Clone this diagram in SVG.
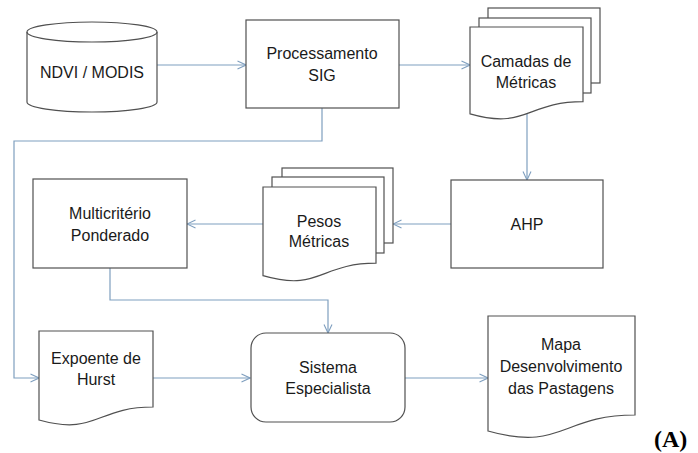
<svg xmlns="http://www.w3.org/2000/svg" width="698" height="453" viewBox="0 0 698 453">
  <style>
    .shape { fill: #ffffff; stroke: #505050; stroke-width: 1.2; }
    .lbl { font-family: "Liberation Sans", Arial, sans-serif; font-size: 16px; fill: #1a1a1a; text-anchor: middle; }
    .conn { fill: none; stroke: #7f9fbf; stroke-width: 1.2; marker-end: url(#arr); }
    .tag { font-family: "Liberation Serif", "Times New Roman", serif; font-size: 24px; font-weight: bold; fill: #000; }
  </style>
  <defs>
    <marker id="arr" viewBox="0 0 10 10" refX="9.5" refY="5" markerWidth="10" markerHeight="10" markerUnits="userSpaceOnUse" orient="auto">
      <path d="M1,1 L9.5,5 L1,9" fill="none" stroke="#7f9fbf" stroke-width="1.1"/>
    </marker>
  </defs>
  <rect width="698" height="453" fill="#ffffff"/>

  <!-- connectors -->
  <g id="connectors">
    <path class="conn" d="M157,65 H246"/>
    <path class="conn" d="M399,65 H470"/>
    <path class="conn" d="M527,114 V180"/>
    <path class="conn" d="M451,224 H393"/>
    <path class="conn" d="M263,224 H187"/>
    <path class="conn" d="M110,268 V300 H328 V333"/>
    <path class="conn" d="M322,108 V141 H14 V378 H39"/>
    <path class="conn" d="M153,378 H250"/>
    <path class="conn" d="M405,378 H488"/>
  </g>

  <!-- data source cylinder -->
  <g id="ndvi">
    <path class="shape" d="M27,32 V102 A65,10 0 0 0 157,102 V32 A65,10 0 0 0 27,32 Z"/>
    <path class="shape" style="fill:none" d="M27,32 A65,10 0 0 0 157,32"/>
    <text class="lbl" x="92" y="78">NDVI / MODIS</text>
  </g>

  <g id="processamento">
    <rect class="shape" x="246" y="20" width="153" height="88"/>
    <text class="lbl" x="322" y="59">Processamento</text>
    <text class="lbl" x="322" y="81">SIG</text>
  </g>

  <g id="camadas">
    <rect class="shape" x="488" y="8" width="112" height="75"/>
    <rect class="shape" x="479" y="18" width="112" height="75"/>
    <path class="shape" d="M470,27 H583 V101.6 C526.5,101.6 526.5,130 470,113.9 Z"/>
    <text class="lbl" x="526" y="67">Camadas de</text>
    <text class="lbl" x="526" y="88">Métricas</text>
  </g>

  <g id="ahp">
    <rect class="shape" x="451" y="180" width="152" height="88"/>
    <text class="lbl" x="527" y="230">AHP</text>
  </g>

  <g id="pesos">
    <rect class="shape" x="282" y="168" width="111" height="75"/>
    <rect class="shape" x="272" y="177" width="112" height="76"/>
    <path class="shape" d="M263,187 H376 V263.2 C319.5,263.2 319.5,292.2 263,275.7 Z"/>
    <text class="lbl" x="319" y="227">Pesos</text>
    <text class="lbl" x="319" y="247">Métricas</text>
  </g>

  <g id="multicriterio">
    <rect class="shape" x="33" y="179" width="154" height="89"/>
    <text class="lbl" x="110" y="219">Multicritério</text>
    <text class="lbl" x="110" y="241">Ponderado</text>
  </g>

  <g id="expoente">
    <path class="shape" d="M39,331 H153 V407 C96,407 96,436 39,420 Z"/>
    <text class="lbl" x="96" y="364">Expoente de</text>
    <text class="lbl" x="96" y="385">Hurst</text>
  </g>

  <g id="sistema">
    <rect class="shape" x="251" y="333" width="154" height="89" rx="15" ry="15"/>
    <text class="lbl" x="328" y="373">Sistema</text>
    <text class="lbl" x="328" y="394">Especialista</text>
  </g>

  <g id="mapa">
    <path class="shape" d="M488,316 H635 V415 C561.5,415 561.5,452 488,431 Z"/>
    <text class="lbl" x="561" y="350">Mapa</text>
    <text class="lbl" x="561" y="372">Desenvolvimento</text>
    <text class="lbl" x="561" y="394">das Pastagens</text>
  </g>

  <text class="tag" x="654" y="447">(A)</text>
</svg>
